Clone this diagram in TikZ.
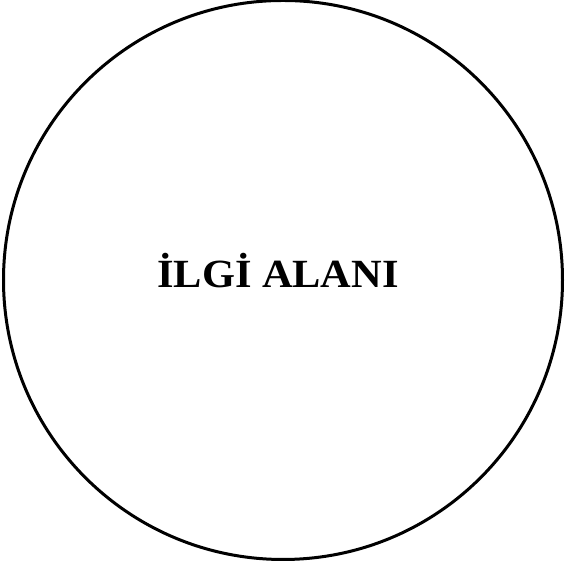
\documentclass[tikz,border=0pt]{standalone}
\usepackage{fontspec}
\setmainfont{Liberation Serif}
\begin{document}
\begin{tikzpicture}[x=1pt,y=1pt,
  ring/.style={draw=black,line width=3pt},
  label/.style={font=\fontsize{40}{44}\selectfont\bfseries,inner sep=0pt,anchor=base,xscale=1.06,transform shape}]
\useasboundingbox (0,0) rectangle (566,561);
\node[ring,circle,minimum size=559pt,inner sep=0pt] (c) at (283,281) {};
\node[label] (t) at (278,273) {İLGİ ALANI};
\end{tikzpicture}
\end{document}
